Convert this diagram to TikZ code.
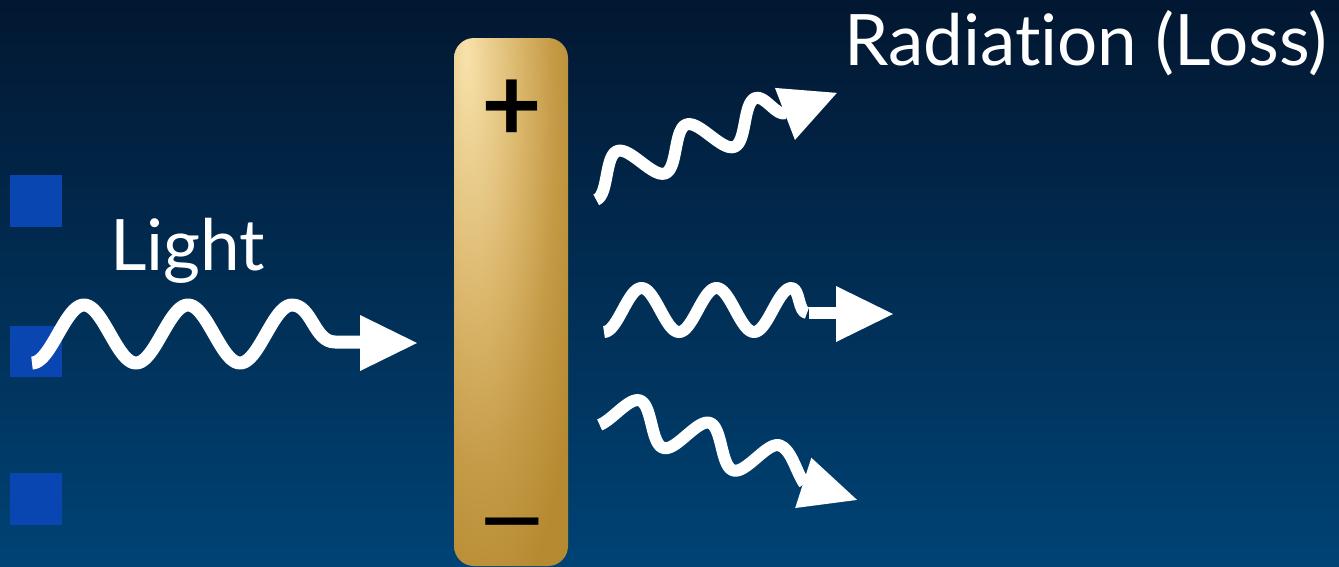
\documentclass[tikz,border=0pt]{standalone}
\usepackage{fontspec}
\setmainfont{Lato}[Ligatures=NoCommon]
\definecolor{bgtop}{RGB}{2,23,49}
\definecolor{bgbot}{RGB}{0,67,117}
\definecolor{sqblue}{RGB}{10,70,178}
\definecolor{barlight}{RGB}{248,226,172}
\definecolor{barmid}{RGB}{218,182,107}
\definecolor{barmidb}{RGB}{197,155,71}
\definecolor{bardark}{RGB}{182,138,49}
\pgfdeclareradialshading{barshade}{\pgfpoint{-20bp}{24bp}}{color(0bp)=(barlight); color(20bp)=(barmid); color(32bp)=(barmidb); color(44bp)=(bardark); color(100bp)=(bardark)}
\tikzset{
  wave/.style={draw=white, line width=12pt, line join=round},
  lightwave/.style={wave, line width=13pt},
  head/.style={fill=white},
  sq/.style={fill=sqblue},
  txt/.style={text=white, inner sep=0pt, font=\fontsize{71}{80}\selectfont},
  plussign/.style={text=black, inner sep=0pt, font=\fontsize{105}{105}\selectfont\bfseries},
  minussign/.style={text=black, inner sep=0pt, font=\fontsize{80}{80}\selectfont\bfseries, xscale=1.5, transform shape}
}
\begin{document}
\begin{tikzpicture}[x=1pt,y=-1pt]
\shade[top color=bgtop,bottom color=bgbot] (0,0) rectangle (1339,566);
\useasboundingbox (0,0) rectangle (1339,566);
% blue squares
\fill[sq] (10,175) rectangle (62,227);
\fill[sq] (10,326) rectangle (62,377);
\fill[sq] (10,473) rectangle (62,525);
% bar
\shade[shading=barshade, rounded corners=20pt] (454,38) rectangle (568,566);
\node[plussign] (plus) at (512,111) {+};
\node[minussign] (minus) at (512,533) {−};
% texts
\node[txt, anchor=base west] (light) at (110,270) {Light};
\node[txt, anchor=base west] (rad) at (844,65) {Radiation (Loss)};
% incoming light
\begin{scope}[shift={(32,334)}]
\draw[lightwave] plot[domain=0:260,samples=120] (\x,{29*cos(\x/104*360)}) .. controls (280,-29) and (282,8) .. (303,8) -- (330,8);
\fill[head] (328,-19) -- (385,9) -- (328,37) -- cycle;
\end{scope}
% top radiation
\begin{scope}[shift={(589.4,182.1)}, rotate=21]
\draw[wave] plot[domain=0:185,samples=100] (\x,{19*cos(\x/74*360)}) .. controls (195,-19) and (198,6) .. (208,6);
\fill[head] (207,-21.4) -- (263,5.4) -- (207,34.3) -- cycle;
\end{scope}
% middle radiation
\begin{scope}[shift={(604,310)}]
\draw[wave] plot[domain=0:187.5,samples=100] (\x,{22*cos(\x/75*360)}) .. controls (196,-22) and (194,3) .. (203,3);
\draw[wave] (205,3) -- (233,3);
\fill[head] (232,-24) -- (289,4) -- (232,32) -- cycle;
\end{scope}
% bottom radiation
\begin{scope}[shift={(599,407.3)}, rotate=-17.8]
\draw[wave] plot[domain=6:183.75,samples=100] (\x,{19*cos(\x/73.5*360)}) .. controls (196,-19) and (208,2) .. (219,10);
\fill[head] (217.6,-16.9) -- (274,9.3) -- (217.6,35.9) -- cycle;
\end{scope}
\end{tikzpicture}
\end{document}
